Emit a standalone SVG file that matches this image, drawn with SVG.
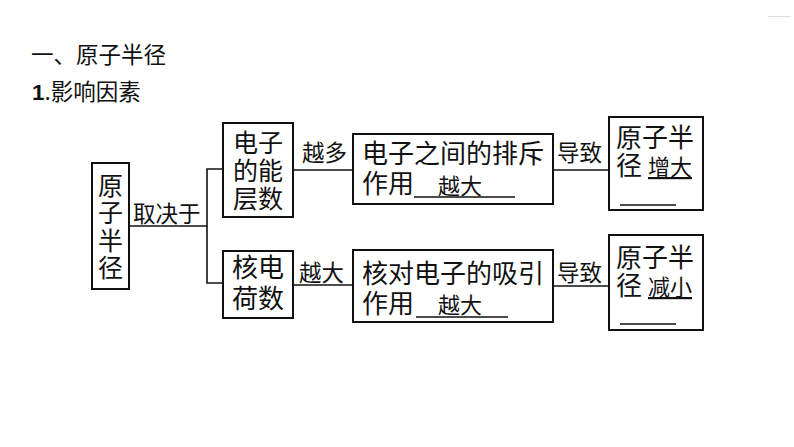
<svg xmlns="http://www.w3.org/2000/svg" width="794" height="447" viewBox="0 0 794 447">
<style>
text{font-family:"Noto Sans CJK SC","Noto Sans",sans-serif;fill:#111}
.t{font-size:22.5px}
.b{font-size:26px}
.v{font-size:25px}
.s{font-size:22px}
.box{fill:#fff;stroke:#111;stroke-width:2}
.ln{fill:none;stroke:#111;stroke-width:1.6}
.ul{stroke:#111;stroke-width:1.6}
</style>
<rect width="794" height="447" fill="#fff"/>
<line x1="768" y1="16.5" x2="791" y2="16.5" stroke="#ddd" stroke-width="1"/>
<g id="title">
<text class="t" x="31" y="63">一、原子半径</text>
<text class="t" x="32" y="100"><tspan font-weight="bold" font-family="Liberation Sans,sans-serif">1</tspan>.影响因素</text>
</g>
<g id="connectors">
<polyline class="ln" points="129,226 207,226"/>
<polyline class="ln" points="223,169 207,169 207,283 223,283"/>
<line class="ln" x1="293" y1="170" x2="353" y2="170"/>
<line class="ln" x1="293" y1="285" x2="353" y2="285"/>
<line class="ln" x1="553" y1="170" x2="609" y2="170"/>
<line class="ln" x1="553" y1="286" x2="609" y2="286"/>
<text class="t" x="133" y="222">取决于</text>
<text class="t" x="302" y="161">越多</text>
<text class="t" x="299" y="281">越大</text>
<text class="t" x="557" y="161">导致</text>
<text class="t" x="557" y="281">导致</text>
</g>
<g id="n-radius">
<rect class="box" x="92" y="163" width="37" height="126"/>
<text class="v" x="110.5" y="195" text-anchor="middle">原</text>
<text class="v" x="110.5" y="222" text-anchor="middle">子</text>
<text class="v" x="110.5" y="250" text-anchor="middle">半</text>
<text class="v" x="110.5" y="277" text-anchor="middle">径</text>
</g>
<g id="n-layers">
<rect class="box" x="223" y="123" width="70" height="94"/>
<text class="v" x="258" y="152" text-anchor="middle">电子</text>
<text class="v" x="258" y="180" text-anchor="middle">的能</text>
<text class="v" x="258" y="208" text-anchor="middle">层数</text>
</g>
<g id="n-charge">
<rect class="box" x="223" y="251" width="70" height="67"/>
<text class="b" x="258" y="277" text-anchor="middle">核电</text>
<text class="b" x="258" y="308" text-anchor="middle">荷数</text>
</g>
<g id="n-repel">
<rect class="box" x="353" y="134" width="200" height="70"/>
<text class="b" x="362" y="163">电子之间的排斥</text>
<text class="b" x="362" y="193">作用</text>
<line class="ul" x1="414" y1="197" x2="515" y2="197"/>
<text class="s" x="438" y="194">越大</text>
</g>
<g id="n-attract">
<rect class="box" x="353" y="250" width="200" height="72"/>
<text class="b" x="362" y="283">核对电子的吸引</text>
<text class="b" x="362" y="313">作用</text>
<line class="ul" x1="416" y1="317" x2="508" y2="317"/>
<text class="s" x="438" y="313">越大</text>
</g>
<g id="n-increase">
<rect class="box" x="609" y="117" width="94" height="93"/>
<text class="b" x="616" y="147">原子半</text>
<text class="b" x="616" y="175">径</text>
<text class="s" x="648" y="175" text-decoration="underline">增大</text>
<line class="ul" x1="620" y1="205" x2="676" y2="205"/>
</g>
<g id="n-decrease">
<rect class="box" x="609" y="235" width="94" height="95"/>
<text class="b" x="616" y="267">原子半</text>
<text class="b" x="616" y="295">径</text>
<text class="s" x="648" y="295" text-decoration="underline">减小</text>
<line class="ul" x1="620" y1="324" x2="676" y2="324"/>
</g>
</svg>
